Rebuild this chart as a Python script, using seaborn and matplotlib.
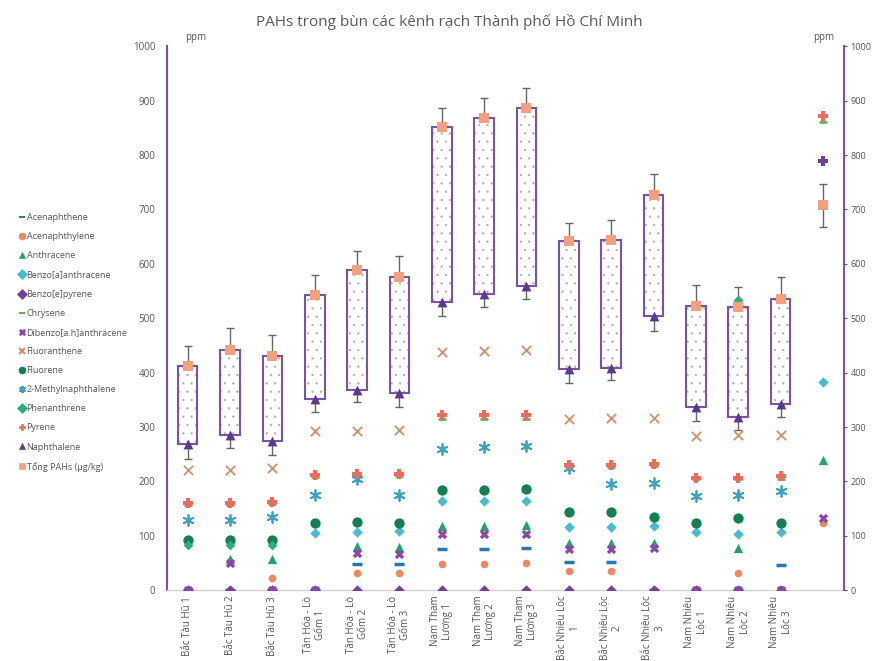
import numpy as np
import pandas as pd
import matplotlib
matplotlib.use("Agg")
import matplotlib.pyplot as plt
import seaborn as sns

nan = np.nan

# sites (last column has no label, drawn against the right axis)
sites = ["Bắc Tàu Hũ 1", "Bắc Tàu Hũ 2", "Bắc Tàu Hũ 3",
         "Tân Hóa - Lò\nGốm 1", "Tân Hóa - Lò\nGốm 2", "Tân Hóa - Lò\nGốm 3",
         "Nam Tham\nLương 1", "Nam Tham\nLương 2", "Nam Tham\nLương 3",
         "Bắc Nhiêu Lộc\n1", "Bắc Nhiêu Lộc\n2", "Bắc Nhiêu Lộc\n3",
         "Nam Nhiêu\nLộc 1", "Nam Nhiêu\nLộc 2", "Nam Nhiêu\nLộc 3", ""]

acenaphthene   = [0, 0, 0, 0, 48, 48, 75, 75, 77, 52, 52, 0, 0, 0, 47, nan]
acenaphthylene = [0, 0, 23, 0, 32, 31, 49, 49, 50, 35, 35, 0, 0, 31, 0, 124]
anthracene     = [0, 58, 58, 0, 81, 80, 119, 119, 120, 86, 86, 86, 0, 78, 0, 239]
benzo_a        = [nan, nan, nan, 105, 107, 109, 165, 165, 165, 116, 116, 119, 107, 104, 107, 383]
benzo_e        = [0, 0, 0, 0, 0, 0, 0, 0, 0, 0, 0, 0, 0, 0, 0, nan]
chrysene       = [157, 157, 159, 208, 210, 210, 314, 314, 315, 226, 226, 229, 204, 204, 205, 861]
dibenzo        = [0, 51, 0, 0, 69, 67, 103, 103, 104, 75, 75, 77, 0, 0, 0, 132]
fluoranthene   = [222, 222, 224, 293, 293, 294, 438, 439, 442, 314, 316, 316, 284, 285, 285, nan]
fluorene       = [92, 92, 93, 124, 126, 124, 185, 185, 187, 143, 144, 134, 123, 133, 123, nan]
methylnaph     = [130, 130, 135, 175, 205, 175, 260, 263, 265, 225, 195, 197, 173, 175, 183, nan]
phenanthrene   = [83, 83, 83, nan, nan, nan, nan, nan, nan, nan, nan, nan, nan, 533, nan, nan]
pyrene         = [160, 160, 162, 211, 214, 214, 322, 322, 322, 230, 230, 233, 207, 207, 210, 871]
naphthalene    = [268, 285, 274, 352, 369, 362, 530, 544, 559, 406, 409, 505, 336, 319, 342, nan]
tong_pahs      = [412, 442, 431, 542, 588, 576, 851, 868, 886, 642, 643, 727, 522, 521, 536, 708]
extra_plus     = [nan] * 15 + [790]

# whisker ends
tong_high = [449, 482, 469, 579, 623, 614, 886, 904, 923, 676, 680, 766, 561, 558, 575, 746]
tong_low  = [nan] * 15 + [668]
naph_low  = [242, 262, 248, 328, 346, 337, 504, 520, 536, 381, 386, 477, 311, 295, 319, nan]

sns.set_style("white")
plt.rcParams["font.family"] = ["Open Sans", "DejaVu Sans"]
plt.rcParams["hatch.linewidth"] = 0.35

fig = plt.figure(figsize=(8.72, 6.61), dpi=100)
ax = fig.add_axes([0.191, 0.107, 0.777, 0.823])
x = np.arange(len(sites))

purple = "#7B52A8"
tong = np.array(tong_pahs, dtype=float)
naph = np.array(naphthalene, dtype=float)
has_box = ~np.isnan(naph)

# hi-lo boxes between naphthalene and total
ax.bar(x[has_box], (tong - naph)[has_box], bottom=naph[has_box], width=0.46,
       color="white", edgecolor="#a8a8a8", hatch="..", linewidth=0, zorder=1)
ax.bar(x[has_box], (tong - naph)[has_box], bottom=naph[has_box], width=0.46,
       fill=False, edgecolor=purple, linewidth=1.5, zorder=2)

# whiskers
up = np.array(tong_high) - tong
lo = np.nan_to_num(tong - np.array(tong_low, dtype=float))
ax.errorbar(x, tong, yerr=[lo, up], fmt="none", ecolor="#666666",
            elinewidth=1, capsize=3, zorder=1.5)
nl = naph - np.array(naph_low, dtype=float)
ax.errorbar(x[has_box], naph[has_box], yerr=[nl[has_box], np.zeros(has_box.sum())],
            fmt="none", ecolor="#666666", elinewidth=1, capsize=3, zorder=1.5)

series = [
    ("Acenaphthene", acenaphthene, "_", "#2479B5", 60, 2.5),
    ("Acenaphthylene", acenaphthylene, "o", "#F0875F", 30, 0),
    ("Anthracene", anthracene, "^", "#21A46B", 45, 0),
    ("Benzo[a]anthracene", benzo_a, "D", "#45BCD2", 28, 0),
    ("Benzo[e]pyrene", benzo_e, "D", "#7A3E9D", 28, 0),
    ("Chrysene", chrysene, "_", "#6FAF50", 40, 2),
    ("Dibenzo[a.h]anthracene", dibenzo, "X", "#8E44AD", 45, 0),
    ("Fluoranthene", fluoranthene, "x", "#D98E67", 45, 1.3),
    ("Fluorene", fluorene, "o", "#15804F", 55, 0),
    ("2-Methylnaphthalene", methylnaph, (6, 2, 0), "#3AA3C8", 60, 1.3),
    ("Phenanthrene", phenanthrene, "D", "#2BB07B", 25, 0),
    ("Pyrene", pyrene, "P", "#EE6A5B", 55, 0),
    ("Naphthalene", naphthalene, "^", "#5B3A8E", 50, 0),
    ("Tổng PAHs (µg/kg)", tong_pahs, "s", "#F4A07F", 55, 0),
]

handles = []
for name, vals, mk, col, size, lw in series:
    df = pd.DataFrame({"x": x, "y": vals}).dropna()
    sns.scatterplot(data=df, x="x", y="y", marker=mk, color=col, s=size,
                    linewidth=lw, edgecolor=col if lw == 0 else None,
                    ax=ax, zorder=3, legend=False)
    handles.append(plt.Line2D([], [], linestyle="none", marker=mk, color=col,
                              markersize=5, markeredgewidth=1.5 if lw else 0.5,
                              label=name))

df = pd.DataFrame({"x": x, "y": extra_plus}).dropna()
sns.scatterplot(data=df, x="x", y="y", marker="P", color="#6A3F9E", s=60,
                linewidth=0, ax=ax, zorder=3, legend=False)

ax.set_xlim(-0.5, len(sites) - 0.5)
ax.set_ylim(0, 1000)
ax.set_yticks(range(0, 1001, 100))
ax.set_xticks(x)
ax.set_xticklabels(sites, rotation=90, fontsize=7, color="#555555",
                   linespacing=1.15)
ax.tick_params(axis="y", labelsize=7, colors="#555555", length=0, pad=8)
ax.tick_params(axis="x", length=0, pad=4)
ax.set_xlabel("")
ax.set_ylabel("")

for s in ["top", "right"]:
    ax.spines[s].set_visible(False)
ax.spines["left"].set_color(purple)
ax.spines["left"].set_linewidth(1.5)
ax.spines["bottom"].set_color("#d0d0d0")
ax.spines["bottom"].set_linewidth(1)

ax2 = ax.twinx()
ax2.set_ylim(0, 1000)
ax2.set_yticks(range(0, 1001, 100))
ax2.tick_params(axis="y", labelsize=6.5, colors="#555555", length=2.5, pad=2)
for lab in ax2.get_yticklabels():
    lab.set_color("#555555")
for s in ["top", "left", "bottom"]:
    ax2.spines[s].set_visible(False)
ax2.spines["right"].set_color(purple)
ax2.spines["right"].set_linewidth(1.5)

fig.text(0.212, 0.94, "ppm", fontsize=7, color="#555555")
fig.text(0.932, 0.94, "ppm", fontsize=7, color="#555555")
fig.text(0.515, 0.966, "PAHs trong bùn các kênh rạch Thành phố Hồ Chí Minh",
         ha="center", va="center", fontsize=11, color="#595959")

leg = fig.legend(handles=handles, loc="center left", bbox_to_anchor=(0.018, 0.482),
                 frameon=False, fontsize=6.5, handlelength=0.6, handletextpad=0.2,
                 labelspacing=1.12, borderaxespad=0)
for t in leg.get_texts():
    t.set_color("#555555")

fig.savefig("out.png", dpi=100)
